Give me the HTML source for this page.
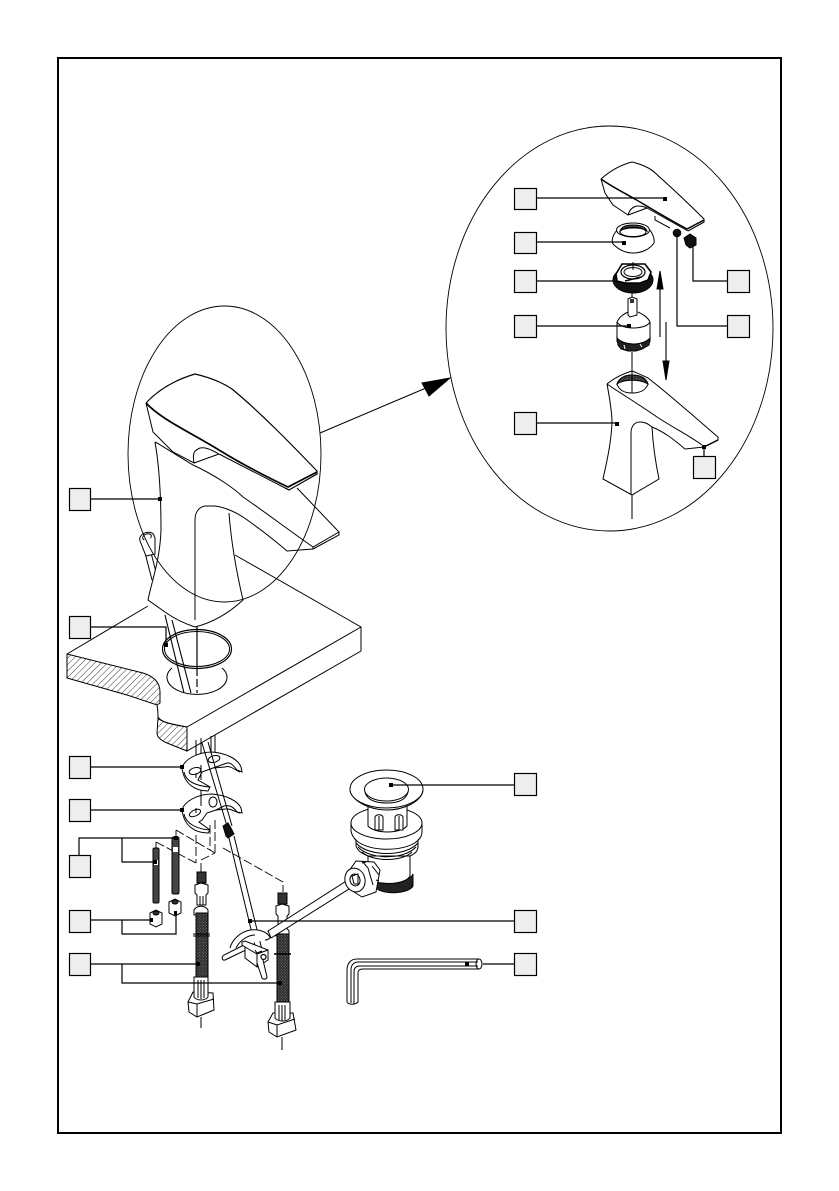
<!DOCTYPE html>
<html><head><meta charset="utf-8"><style>html,body{margin:0;padding:0;background:#fff}svg{display:block}</style></head><body>
<svg width="839" height="1191" viewBox="0 0 839 1191" xmlns="http://www.w3.org/2000/svg">
<defs>
<pattern id="h" width="4.5" height="4.5" patternUnits="userSpaceOnUse" patternTransform="rotate(45)"><line x1="0" y1="0" x2="0" y2="4.5" stroke="#222" stroke-width="0.9"/></pattern>
<pattern id="b" width="2" height="2" patternUnits="userSpaceOnUse" patternTransform="rotate(45)"><rect width="2" height="2" fill="#2a2a2a"/><rect width="0.8" height="0.8" fill="#999"/></pattern>
</defs>
<rect width="839" height="1191" fill="#fff"/>
<rect x="58" y="58" width="723" height="1075" fill="none" stroke="#000" stroke-width="2"/>
<g fill="none" stroke="#000" stroke-width="1">
<!-- deck -->
<path d="M235 555L361 627V651L187 751V727L361 627M67 654L148 606M67 654V678"/>
<path d="M67 654L143 673C156 677 160 684 160 692V703L157 705L127 695L67 678Z" fill="url(#h)"/>
<path d="M157 705C158 710 158 714 158 717C161 722 170 724 187 727"/>
<path d="M158 718C161 722 170 724 187 727V751L167 743C160 740 157 737 157 733Z" fill="url(#h)"/>
<!-- holes -->
<path d="M172 668A30 17 0 1 0 222 668"/>
<!-- pop rod upper -->
<path d="M143 545L152 580M149 545L158 580" stroke-width="1"/>
<path d="M165 615L184 693M172 620L191 693" stroke-width="1.1"/>
<ellipse cx="147" cy="538" rx="7.5" ry="5.5" transform="rotate(-20 147 538)" fill="#fff"/>
<ellipse cx="147" cy="537" rx="4.5" ry="3" transform="rotate(-20 147 537)"/>
<path d="M140 541L146 556L155 554L155 537" fill="#fff"/>
<line x1="197" y1="620" x2="197" y2="668" stroke-width="1.2"/>
<line x1="197" y1="668" x2="197" y2="693" stroke-width="1.2" stroke-dasharray="8 3"/>
<ellipse cx="197" cy="649" rx="34.5" ry="19.5" stroke-width="1.2"/>
<ellipse cx="197" cy="649" rx="32.5" ry="17.5"/>
<!-- faucet body -->
<path d="M155 442C160 470 161 500 161 530C160 560 152 580 148 600L165 612C176 620 186 624 195 627C215 622 230 612 243 600C236 570 231 540 229 513L213 506H205C199 507 195 512 195 520L193 465Z" fill="#fff" stroke="none"/>
<path d="M155 442C160 470 161 500 161 530C160 560 152 580 148 600L165 612C176 620 186 624 195 627C215 622 230 612 243 600C236 570 231 540 229 513" stroke-width="1"/>
<path d="M155 442L157 443L193 465C215 475 235 489 243 497C265 512 290 531 313 547L339 532L297 488"/>
<path d="M313 549L339 535V532M313 547V549L287 551C265 532 250 522 243 517C232 510 220 506 213 506H205C199 507 195 512 195 520V620"/>
<!-- handle -->
<path d="M146 403C158 390 175 380 195 374C208 377 220 381 232 389C260 412 292 445 317 471V474L289 490L285 488" stroke-width="1.2"/>
<path d="M146 403C162 420 190 432 219 450C240 463 265 476 288 487L317 472" stroke-width="1.7"/>
<path d="M146 403L153 432L173 452L194 463C192 452 195 450 200 448C205 447 210 449 219 454M194 463L219 454M219 454L289 490"/>
<!-- large ellipses -->
<ellipse cx="224.5" cy="454" rx="96.5" ry="148" stroke-width="0.9"/>
<ellipse cx="609.5" cy="328.5" rx="163.5" ry="202.5" stroke-width="0.9"/>
<line x1="320" y1="433" x2="426" y2="388" stroke-width="1"/>
<path d="M450 378L422 383L429 396Z" fill="#000"/>
<!-- detail handle -->
<path d="M601 179C610 171 620 165 632 162C640 164 646 166 653 171C672 188 690 205 704 219V222L688 231" stroke-width="1.1"/>
<path d="M601 179C612 187 625 193 640 202C655 211 672 221 687 229L704 220" stroke-width="1.5"/>
<path d="M601 179L605 193L613 205L628 215C630 209 633 206 638 206C642 206 645 207 647 208L628 215M647 208L688 231"/>
<path d="M655 216V220L670 228"/>
<!-- screws -->
<circle cx="677" cy="233" r="3.8" fill="#111"/>
<path d="M684 238L690 234L696 238L696 245L690 248L686 245Z" fill="#111"/>
<!-- cap -->
<path d="M617 230C613 235 611 240 613 244C619 250 626 253 633 253C642 253 650 249 654 243C655 238 652 233 650 230" fill="#fff"/>
<ellipse cx="633" cy="230" rx="16.5" ry="7" fill="#fff"/>
<path d="M620 231C622 226 627 225 633 225C639 225 645 226 647 231C642 227 625 227 620 231Z" fill="url(#b)"/>
<ellipse cx="633" cy="232" rx="13" ry="4.5"/>
<!-- nut -->
<ellipse cx="633" cy="280" rx="20" ry="13" fill="#111"/>
<path d="M616 274L622 264L645 264L651 272L648 280L640 283L625 283L617 281Z" fill="#fff" stroke="#000" stroke-width="1.6"/>
<ellipse cx="633" cy="272" rx="12" ry="7" stroke-width="1.2"/>
<ellipse cx="633" cy="272" rx="9" ry="4.5"/>
<path d="M625 281L641 277" stroke-width="1.5"/>
<line x1="633" y1="262" x2="633" y2="270"/>
<line x1="632" y1="293" x2="632" y2="298"/>
<!-- cartridge -->
<path d="M628 299L632 297L637 299V315L630 317L628 315Z" fill="#fff"/>
<path d="M630 299h4v4h-4z" fill="#333" stroke="none"/>
<path d="M617 322C620 316 624 314 628 312M650 322C647 316 642 314 638 312M617 322C621 330 646 330 650 322M617 322V342M650 322V342" stroke-width="1"/>
<path d="M617 338C624 346 643 346 650 338L649 345L642 349L636 351L628 351L621 349L618 345Z" fill="#222"/>
<path d="M624 345L625 349M640 344L642 347" stroke="#fff"/>
<line x1="632" y1="352" x2="632" y2="393" stroke-width="1"/>
<!-- arrows -->
<line x1="660" y1="287" x2="660" y2="337" stroke-width="1.1"/>
<path d="M660 271L657 289H663Z" fill="#000"/>
<line x1="666" y1="322" x2="666" y2="362" stroke-width="1.1"/>
<path d="M666 380L663 361H669Z" fill="#000"/>
<!-- detail faucet -->
<path d="M607 384C613 379 622 374 632 371C638 373 643 376 648 378C670 395 698 420 718 437V440L704 447L685 449C672 438 664 432 652 427C647 423 644 422 640 422C634 422 631 427 631 433V495M607 384C620 393 640 405 657 417C672 427 690 436 702 445M607 384C610 400 612 412 612 423C611 445 606 465 603 479L632 495L659 479C655 460 653 445 652 427"/>
<path d="M704 447L718 440" stroke-width="1.4"/>
<path d="M617 384C619 378 625 375 632 375C640 375 646 378 648 384C646 390 640 393 632 393C624 393 619 390 617 384Z" fill="#fff"/>
<path d="M617 384C619 378 625 375 632 375C640 375 646 378 648 384C640 379 624 379 617 384Z" fill="url(#b)"/>
<line x1="632" y1="495" x2="632" y2="519"/>
<line x1="632" y1="376" x2="632" y2="393"/>
<!-- vertical lines between deck and washers -->
<path d="M196 740V768M201 738V765M211 736V760M215 735V760" stroke-width="1"/>
<!-- washer 1 -->
<path d="M182 768C184 760 197 752 212 752C226 753 238 759 241 767L242 772L237 770C233 765 230 762 227 763L213 768L202 772L198 780L210 787L208 791C195 791 184 784 182 768Z" fill="#fff"/>
<path d="M184 772C186 782 197 786 210 787M213 768L225 767C230 765 235 770 240 772"/>
<ellipse cx="195" cy="771" rx="6" ry="3.3" transform="rotate(-15 195 771)"/>
<ellipse cx="214" cy="759" rx="6" ry="3.3" transform="rotate(-15 214 759)"/>
<path d="M201 765V780M196 773V778"/>
<!-- washer 2 -->
<path d="M182 810C184 802 197 794 212 794C226 795 238 801 241 808L242 813L237 812C233 806 228 805 224 806L216 810L207 813L202 820L199 822L210 830L208 833C195 833 184 826 182 810Z" fill="#fff"/>
<path d="M184 814C186 824 197 829 210 830M216 810L226 809C230 808 235 812 240 813"/>
<ellipse cx="195" cy="813" rx="6" ry="3" transform="rotate(-25 195 813)"/>
<ellipse cx="213" cy="802" rx="4" ry="5"/>
<path d="M201 790V806M196 808V813"/>
<!-- pop rod lower -->
<path d="M202 743L227 826M208 742L232 826" fill="none" stroke-width="1"/>
<path d="M223 826L228 823L232 830L234 834L228 838L226 836Z" fill="#111"/>
<path d="M229 838L256 950M234 836L262 950" stroke-width="1"/>
<!-- dashes -->
<path d="M176 830L215 853M156 842L196 863M196 835V863M215 820V853M210 825V850M201 872V860L215 853M223 848L283 882V892M176 830V838M156 842V848" stroke-dasharray="9 3" stroke-width="0.9"/>
<!-- bolts -->
<rect x="153" y="848" width="6" height="55" rx="1.5" fill="#444"/>
<rect x="172" y="837" width="7" height="57" rx="1.5" fill="#444"/>
<rect x="154" y="860" width="4" height="5" fill="#fff" stroke="none"/>
<rect x="173" y="847" width="5" height="5" fill="#fff" stroke="none"/>
<path d="M150 913L156 910L162 913V924L156 927L150 924Z" fill="#fff"/>
<path d="M169 902L175 899L181 902V913L175 916L169 913Z" fill="#fff"/>
<ellipse cx="156" cy="913" rx="3" ry="2" fill="#333"/>
<ellipse cx="175" cy="902" rx="3" ry="2" fill="#333"/>
<!-- hose 1 -->
<rect x="197" y="872" width="9" height="11" fill="#333"/>
<path d="M195 885L201 883L208 885V893L206 895V905H197V895L195 893Z" fill="#fff"/>
<path d="M200 896V905M203 896V905"/>
<path d="M194 915V910C197 905 205 905 208 910V915Z" fill="#fff"/>
<rect x="196" y="913" width="12" height="64" fill="url(#b)"/>
<path d="M188 1002L193 992L213 993L214 1010L197 1017L189 1012Z" fill="#fff"/>
<path d="M197 1004V1017M188 1002L197 1004L214 999"/>
<path d="M194 977H208V997C205 1001 197 1001 194 997Z" fill="#fff"/>
<path d="M198 980V998M201 980V999M204 980V998"/>
<line x1="201" y1="1017" x2="201" y2="1028"/>
<line x1="193" y1="934" x2="210" y2="934"/>
<line x1="193" y1="936" x2="210" y2="936"/>
<!-- hose 2 -->
<rect x="278" y="893" width="9" height="11" fill="#333"/>
<path d="M276 906L282 904L289 906V914L287 916V925H278V916L276 914Z" fill="#fff"/>
<path d="M276 936V931C279 926 286 926 289 931V936Z" fill="#fff"/>
<rect x="277" y="934" width="12" height="68" fill="url(#b)"/>
<path d="M268 1022L273 1013L293 1013L296 1030L277 1037L269 1032Z" fill="#fff"/>
<path d="M277 1025V1037M268 1022L277 1025L295 1019"/>
<path d="M275 1002H290V1018C287 1022 278 1022 275 1018Z" fill="#fff"/>
<path d="M279 1005V1020M282 1005V1021M285 1005V1020"/>
<line x1="282" y1="1037" x2="282" y2="1050"/>
<line x1="274" y1="954" x2="291" y2="954" stroke-width="1.4"/>
<!-- clamp arc -->
<path d="M230 948C232 940 240 932 250 930C258 929 266 931 270 937C270 939 267 940 265 940M236 948C240 940 248 935 255 935" fill="#fff"/>
<!-- lever rod -->
<path d="M268 931L351 878L357 884L271 938Z" fill="#fff"/>
<!-- bar -->
<path d="M248 943L224 955C221 957 222 961 225 960L250 948Z" fill="#fff"/>
<!-- clamp body -->
<path d="M242 942L245 941L268 950V960L257 967L245 958V947L242 945Z" fill="#fff"/>
<path d="M245 947L257 954V967M257 954L268 950"/>
<circle cx="263.5" cy="957" r="2.5" fill="#fff" stroke-width="1.2"/>
<path d="M257 963L262 978C264 980 267 979 267 977L263 960" fill="#fff"/>
<path d="M255 950L257 953L262 951" />
<!-- wrench -->
<path d="M478 959H357C351 959 347 963 347 970V1002C349 1005 355 1005 358 1002V973C358 970 360 969 363 969H478"/>
<path d="M478 962H358C353 962 351 966 351 970V1003M478 966H360C356 966 354 968 354 972V1004"/>
<ellipse cx="479" cy="964" rx="3" ry="5"/>
<!-- popup -->
<path d="M375 878V886C378 895 408 895 413 886V874C410 882 385 886 375 878Z" fill="#222"/>
<path d="M368 850V876C372 886 405 886 410 876V850" fill="#fff"/>
<path d="M351 823V831C352 836 354 838 356 840V846C358 852 364 854 368 856H410C414 854 418 852 418 846V840C421 838 422 835 422 831V823Z" fill="#fff"/>
<ellipse cx="386.5" cy="823" rx="35.5" ry="16" fill="#fff"/>
<path d="M354 838C365 853 410 853 420 838M356 843C368 857 406 857 418 843M358 847C370 860 404 860 416 847M362 852C372 862 402 862 412 852" stroke-width="1"/>
<path d="M368 805V826C375 834 400 834 407 826V805" fill="#fff"/>
<path d="M375 817C376 814 382 814 383 817V830H375ZM395 817C396 814 402 814 403 817V830H395Z" fill="#fff"/>
<path d="M379 816V830M399 816V830"/>
<path d="M350 791C354 803 372 810 387 810C402 810 420 803 423 791" fill="#fff"/>
<ellipse cx="386.5" cy="789" rx="36.5" ry="19" fill="#fff"/>
<path d="M365 792C367 800 376 803 387 803C398 803 406 800 408 792"/>
<ellipse cx="386.5" cy="789.5" rx="22" ry="11.5" fill="#fff"/>
<!-- coupling nut -->
<path d="M351 868L356 861L374 862L380 870L376 892L362 897L354 892Z" fill="#fff"/>
<path d="M362 863L366 862M372 866L379 875M376 880L379 881M362 861L368 868L373 885"/>
<ellipse cx="355" cy="880" rx="10" ry="12" transform="rotate(-15 355 880)" fill="#fff"/>
<ellipse cx="355" cy="880" rx="5" ry="6" transform="rotate(-15 355 880)"/>
<path d="M352 876L358 874V884L354 884Z" fill="#fff"/>
</g>
<!-- leaders -->
<g fill="none" stroke="#000" stroke-width="1.2">
<path d="M90 499H160M90 627H166V645M90 767H182M90 810H182"/>
<path d="M79 855V838H176M122 838V862H155M90 920H150M122 920V934H176V915M90 964H198M122 964V983H280"/>
<path d="M514 785H391M514 921H250M514 964H483"/>
<path d="M537 198H665M537 242H624M537 281H613M537 326H629M537 423H617M704 447V456M677 233V326H727M693 245V281H727"/>
</g>
<g fill="#000">
<rect x="158" y="497" width="4" height="4"/><rect x="164" y="643" width="4" height="4"/><rect x="180" y="765" width="4" height="4"/><rect x="180" y="808" width="4" height="4"/>
<rect x="153" y="860" width="4" height="4"/><rect x="174" y="836" width="4" height="4"/><rect x="150" y="918" width="3" height="4"/><rect x="174" y="911" width="3" height="4"/>
<rect x="196" y="962" width="4" height="4"/><rect x="278" y="981" width="4" height="4"/><rect x="248" y="919" width="4" height="4"/>
<rect x="389" y="783" width="4" height="4"/><rect x="465" y="962" width="4" height="4"/>
<rect x="663" y="197" width="4" height="4"/><rect x="622" y="241" width="4" height="4"/><rect x="627" y="324" width="4" height="4"/><rect x="615" y="422" width="4" height="4"/><rect x="702" y="445" width="4" height="4"/>
</g>
<!-- label boxes -->
<g fill="#eeeeee" stroke="#000" stroke-width="1.2">
<rect x="69.5" y="488.5" width="21" height="22"/>
<rect x="69.5" y="616.5" width="21" height="22"/>
<rect x="69.5" y="756.5" width="21" height="22"/>
<rect x="69.5" y="799.5" width="21" height="22"/>
<rect x="69.5" y="855.5" width="21" height="22"/>
<rect x="69.5" y="910.5" width="21" height="22"/>
<rect x="69.5" y="953.5" width="21" height="22"/>
<rect x="514.5" y="773.5" width="22" height="22"/>
<rect x="514.5" y="910.5" width="22" height="22"/>
<rect x="514.5" y="953.5" width="22" height="22"/>
<rect x="514.5" y="188.5" width="22" height="21"/>
<rect x="514.5" y="232.5" width="22" height="21"/>
<rect x="514.5" y="270.5" width="22" height="22"/>
<rect x="514.5" y="315.5" width="22" height="22"/>
<rect x="514.5" y="412.5" width="22" height="22"/>
<rect x="727.5" y="270.5" width="22" height="22"/>
<rect x="727.5" y="315.5" width="22" height="22"/>
<rect x="693.5" y="456.5" width="22" height="22"/>
</g>
</svg>
</body></html>
